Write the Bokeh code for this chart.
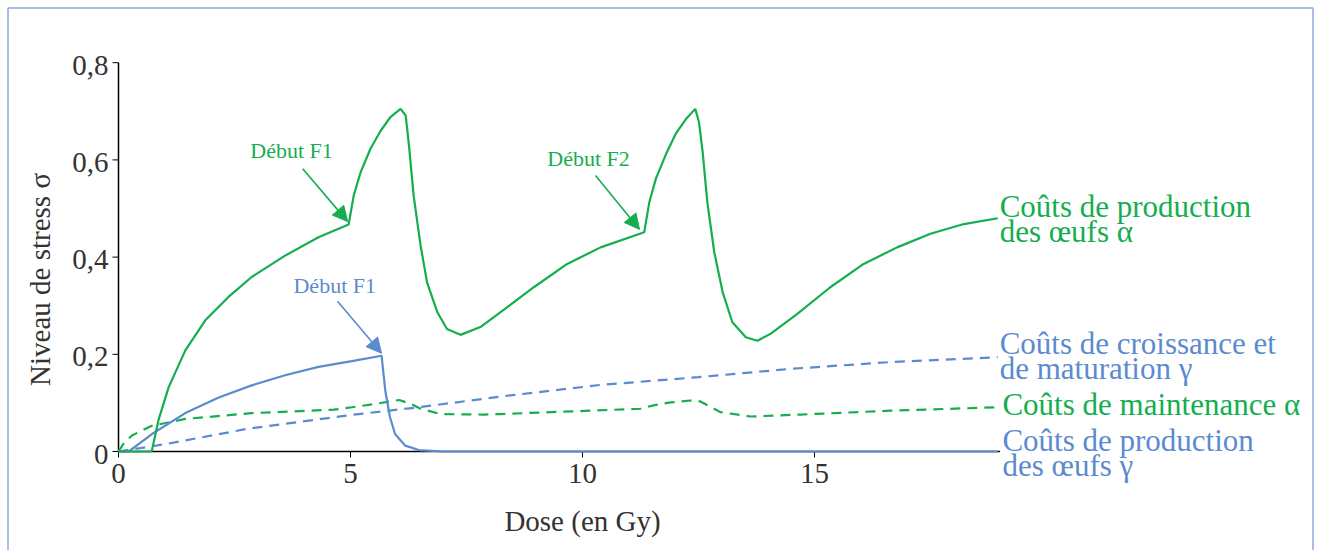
from math import pi
from bokeh.plotting import figure
from bokeh.models import Range1d, Arrow, NormalHead
from bokeh.core.properties import value
from bokeh.embed import file_html
from bokeh.resources import INLINE

# ---------------- data ----------------
egg_alpha_x = [0, 0.70, 0.72, 0.86, 1.08, 1.44, 1.87, 2.37, 2.87, 3.59, 4.31, 4.96,
               5.07, 5.22, 5.43, 5.65, 5.86, 6.08, 6.19, 6.26, 6.36, 6.51, 6.65, 6.87, 7.08, 7.37,
               7.80, 8.38, 8.95, 9.67, 10.39, 11.33,
               11.44, 11.58, 11.80, 12.01, 12.23, 12.43, 12.51, 12.59, 12.69, 12.84, 13.02, 13.23, 13.52, 13.77,
               14.05, 14.63, 15.34, 16.06, 16.78, 17.50, 18.22, 18.95]
egg_alpha_y = [0, 0, 0.002, 0.064, 0.132, 0.208, 0.270, 0.318, 0.359, 0.403, 0.441, 0.467,
               0.527, 0.575, 0.623, 0.660, 0.688, 0.705, 0.691, 0.630, 0.527, 0.424, 0.348, 0.287, 0.252, 0.240,
               0.256, 0.297, 0.338, 0.386, 0.420, 0.451,
               0.513, 0.561, 0.612, 0.654, 0.684, 0.705, 0.678, 0.616, 0.513, 0.410, 0.328, 0.266, 0.235, 0.228,
               0.242, 0.283, 0.338, 0.386, 0.420, 0.448, 0.468, 0.480]

egg_gamma_x = [0, 0.22, 0.72, 1.44, 2.16, 2.87, 3.59, 4.31, 5.03, 5.67, 5.75, 5.85, 5.96, 6.18, 6.47, 7.0, 18.95]
egg_gamma_y = [0, 0, 0.036, 0.079, 0.111, 0.136, 0.157, 0.174, 0.186, 0.197, 0.125, 0.071, 0.036, 0.012, 0.003, 0, 0]

maint_alpha_x = [0, 0.12, 0.29, 0.72, 1.44, 2.87, 4.64, 5.03, 5.6, 6.05, 6.3, 6.51, 6.94, 7.87, 8.23,
                 11.25, 11.53, 11.9, 12.33, 12.54, 12.97, 13.62, 14.7, 16.64, 18.95]
maint_alpha_y = [0, 0.018, 0.033, 0.053, 0.067, 0.079, 0.086, 0.091, 0.099, 0.106, 0.098, 0.088, 0.077, 0.076, 0.077,
                 0.088, 0.095, 0.101, 0.105, 0.103, 0.081, 0.072, 0.076, 0.084, 0.091]

growth_gamma_x = [0, 1.0, 2.8, 5.0, 6.47, 8.23, 10.39, 12.5, 14.48, 16.64, 18.95]
growth_gamma_y = [0, 0.015, 0.047, 0.075, 0.091, 0.113, 0.137, 0.153, 0.170, 0.184, 0.194]

y_ticks = [0, 0.2, 0.4, 0.6, 0.8]
y_tick_labels = ["0", "0,2", "0,4", "0,6", "0,8"]
x_ticks = [0, 5, 10, 15]
x_tick_labels = ["0", "5", "10", "15"]
x_axis_end = 19

series_labels = ["Coûts de production", "des œufs α", "Coûts de croissance et", "de maturation γ",
                 "Coûts de maintenance α", "Coûts de production", "des œufs γ"]
series_label_x = [18.99, 18.99, 18.99, 18.99, 19.05, 19.05, 19.05]
series_label_y = [0.487, 0.436, 0.206, 0.154, 0.081, 0.0056, -0.046]
series_label_kind = ["g", "g", "b", "b", "g", "b", "b"]

ann_text = ["Début F1", "Début F2", "Début F1"]
ann_x = [3.73, 10.13, 4.66]
ann_y = [0.613, 0.597, 0.335]
ann_kind = ["g", "g", "b"]
arrow_x0 = [3.97, 10.28, 4.72]
arrow_y0 = [0.582, 0.568, 0.309]
arrow_x1 = [4.94, 11.23, 5.67]
arrow_y1 = [0.473, 0.457, 0.202]

GREEN = "#14AE4F"
BLUE = "#5B8BCF"
TXT = "#333333"
FRAME = "#8EAADB"
COL = {"g": GREEN, "b": BLUE}
FONT = "Liberation Serif"

# layout of the drawing: pixels per data unit and pixel position of the origin
PXX = 46.4
PXY = 486.0
OX, OY = 118, 451
W, H = 1314, 550
PAD = 7.5
TXT_SHIFT = -8   # screen-pixel correction for alphabetic baselines

# ---------------- figure ----------------
p = figure(width=W, height=H, output_backend="svg", toolbar_location=None,
           x_range=Range1d(-OX / PXX, (W - OX) / PXX),
           y_range=Range1d((OY - H) / PXY, OY / PXY),
           x_axis_location=None, y_axis_location=None,
           min_border_left=0, min_border_right=0, min_border_top=0, min_border_bottom=0)
p.grid.visible = False
p.outline_line_color = None
p.background_fill_color = "white"
p.border_fill_color = "white"

# outer frame (left, top and right sides; the bottom lies below the picture)
fl, fr = (PAD - OX) / PXX, (W - 1.5 - OX) / PXX
ft, fb = (OY - PAD) / PXY, (OY - H - 5) / PXY
p.line([fl, fl, fr, fr], [fb, ft, ft, fb], line_color=FRAME, line_width=1.5)

# ---------------- axes (drawn in data space) ----------------
p.segment(x0=[0], y0=[y_ticks[0]], x1=[0], y1=[y_ticks[-1]], line_color="black", line_width=1.5)
p.segment(x0=[x_ticks[0]], y0=[0], x1=[x_axis_end], y1=[0], line_color="black", line_width=1.5)
p.segment(x0=[0] * len(y_ticks), y0=y_ticks, x1=[-6 / PXX] * len(y_ticks), y1=y_ticks,
          line_color="black", line_width=1)
p.segment(x0=x_ticks, y0=[0] * len(x_ticks), x1=x_ticks, y1=[-6 / PXY] * len(x_ticks),
          line_color="black", line_width=1)
p.text(x=[-10 / PXX] * len(y_ticks), y=[t - 10.5 / PXY for t in y_ticks], text=y_tick_labels,
       text_align="right", text_baseline="alphabetic", text_font=value(FONT), y_offset=TXT_SHIFT,
       text_font_size="29px", text_color=TXT)
p.text(x=x_ticks, y=[-30 / PXY] * len(x_ticks), text=x_tick_labels,
       text_align="center", text_baseline="alphabetic", text_font=value(FONT), y_offset=TXT_SHIFT,
       text_font_size="29px", text_color=TXT)
p.text(x=[10], y=[-77 / PXY], text=["Dose (en Gy)"], text_align="center", text_baseline="alphabetic",
       text_font=value(FONT), text_font_size="29px", text_color=TXT, y_offset=TXT_SHIFT)
p.text(x=[-79 / PXX], y=[0.354], text=["Niveau de stress σ"], angle=pi / 2, text_align="center",
       text_baseline="middle", text_font=value(FONT), text_font_size="29px", text_color=TXT)

# ---------------- series ----------------
p.line(growth_gamma_x, growth_gamma_y, line_color=BLUE, line_width=2.2, line_dash="10 7")
p.line(maint_alpha_x, maint_alpha_y, line_color=GREEN, line_width=2.2, line_dash="10 7")
p.line(egg_gamma_x, egg_gamma_y, line_color=BLUE, line_width=2.2)
p.line(egg_alpha_x, egg_alpha_y, line_color=GREEN, line_width=2.2)

# ---------------- annotations ----------------
for k in ("g", "b"):
    idx = [i for i, kk in enumerate(ann_kind) if kk == k]
    p.text(x=[ann_x[i] for i in idx], y=[ann_y[i] for i in idx], text=[ann_text[i] for i in idx],
           text_align="center", text_baseline="middle", text_font=value(FONT), y_offset=-3,
           text_font_size="22px", text_color=COL[k])
for x0, y0, x1, y1, k in zip(arrow_x0, arrow_y0, arrow_x1, arrow_y1, ann_kind):
    p.add_layout(Arrow(x_start=x0, y_start=y0, x_end=x1, y_end=y1, line_color=COL[k], line_width=1.6,
                       end=NormalHead(size=15, fill_color=COL[k], line_color=COL[k])))

for k in ("g", "b"):
    idx = [i for i, kk in enumerate(series_label_kind) if kk == k]
    p.text(x=[series_label_x[i] for i in idx], y=[series_label_y[i] for i in idx],
           text=[series_labels[i] for i in idx], text_align="left", text_baseline="alphabetic",
           text_font=value(FONT), text_font_size="31px", text_color=COL[k], y_offset=TXT_SHIFT)

open("out.html", "w").write(file_html(p, INLINE))
